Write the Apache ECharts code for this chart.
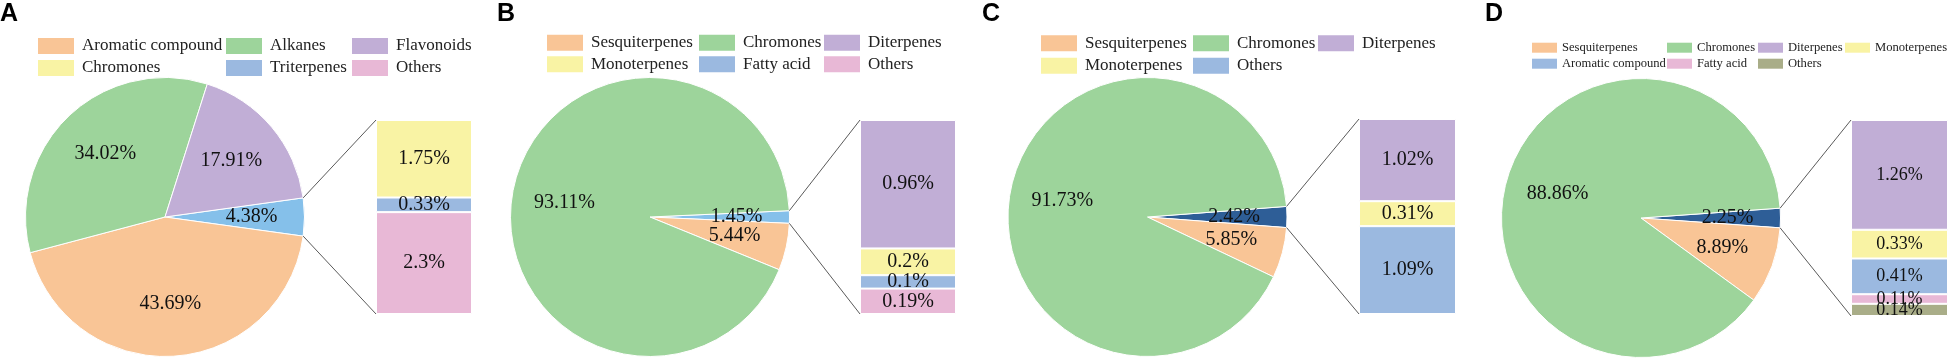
<!DOCTYPE html>
<html>
<head>
<meta charset="utf-8">
<script src="https://cdn.jsdelivr.net/npm/echarts@6/dist/echarts.min.js"></script>
<style>
  html, body { margin: 0; padding: 0; background: #fff; }
  #chart { width: 1949px; height: 359px; }
</style>
</head>
<body>
<div id="chart"></div>
<script>
// ---- values ----
const PANEL_TAGS = ['A', 'B', 'C', 'D'];

// pie: first slice is the small pulled-out slice that the bar on the right breaks down
const A_PIE_NAMES = ['A minor classes', 'Aromatic compound', 'Alkanes', 'Flavonoids'];
const A_PIE_VALUES = [4.38, 43.69, 34.02, 17.91];
const A_BAR_NAMES = ['Chromones', 'Triterpenes', 'Others'];          // top -> bottom
const A_BAR_VALUES = [1.75, 0.33, 2.3];
const A_LEGEND = [['Aromatic compound', 'Alkanes', 'Flavonoids'], ['Chromones', 'Triterpenes', 'Others']];

const B_PIE_NAMES = ['B minor classes', 'Sesquiterpenes', 'Chromones'];
const B_PIE_VALUES = [1.45, 5.44, 93.11];
const B_BAR_NAMES = ['Diterpenes', 'Monoterpenes', 'Fatty acid', 'Others'];
const B_BAR_VALUES = [0.96, 0.2, 0.1, 0.19];
const B_LEGEND = [['Sesquiterpenes', 'Chromones', 'Diterpenes'], ['Monoterpenes', 'Fatty acid', 'Others']];

const C_PIE_NAMES = ['C minor classes', 'Sesquiterpenes', 'Chromones'];
const C_PIE_VALUES = [2.42, 5.85, 91.73];
const C_BAR_NAMES = ['Diterpenes', 'Monoterpenes', 'Others'];
const C_BAR_VALUES = [1.02, 0.31, 1.09];
const C_LEGEND = [['Sesquiterpenes', 'Chromones', 'Diterpenes'], ['Monoterpenes', 'Others']];

const D_PIE_NAMES = ['D minor classes', 'Sesquiterpenes', 'Chromones'];
const D_PIE_VALUES = [2.25, 8.89, 88.86];
const D_BAR_NAMES = ['Diterpenes', 'Monoterpenes', 'Aromatic compound', 'Fatty acid', 'Others'];
const D_BAR_VALUES = [1.26, 0.33, 0.41, 0.11, 0.14];
const D_LEGEND = [['Sesquiterpenes', 'Chromones', 'Diterpenes', 'Monoterpenes'], ['Aromatic compound', 'Fatty acid', 'Others']];

// ---- colours ----
const ORANGE = '#F9C596', GREEN = '#9DD49B', PURPLE = '#C1AED6', YELLOW = '#F9F3A4';
const LBLUE = '#9BB9E0', PINK = '#E8B8D6', SKY = '#85C0EA', NAVY = '#2E5E97', OLIVE = '#A9AD88';

const A_COLORS = { minor: SKY, 'Aromatic compound': ORANGE, Alkanes: GREEN, Flavonoids: PURPLE, Chromones: YELLOW, Triterpenes: LBLUE, Others: PINK };
const B_COLORS = { minor: SKY, Sesquiterpenes: ORANGE, Chromones: GREEN, Diterpenes: PURPLE, Monoterpenes: YELLOW, 'Fatty acid': LBLUE, Others: PINK };
const C_COLORS = { minor: NAVY, Sesquiterpenes: ORANGE, Chromones: GREEN, Diterpenes: PURPLE, Monoterpenes: YELLOW, Others: LBLUE };
const D_COLORS = { minor: NAVY, Sesquiterpenes: ORANGE, Chromones: GREEN, Diterpenes: PURPLE, Monoterpenes: YELLOW, 'Aromatic compound': LBLUE, 'Fatty acid': PINK, Others: OLIVE };

// ---- layout (pixels) ----
const LAYOUT = [
  { tagX: 0,    cx: 165,    cy: 217, r: 139.5, bar: { left: 376,  top: 120, width: 96, height: 194 },
    legX: [38, 226, 352], legTop: 37, legGap: 4, sw: [36, 16], legFont: 17, legLine: 18, legPad: 3, barFont: 20 },
  { tagX: 497,  cx: 650,    cy: 217, r: 139.5, bar: { left: 860,  top: 120, width: 96, height: 194 },
    legX: [547, 699, 824], legTop: 33.7, legGap: 3.6, sw: [36, 16], legFont: 17, legLine: 18, legPad: 3, barFont: 20 },
  { tagX: 982,  cx: 1147.5, cy: 217, r: 139.5, bar: { left: 1359, top: 119, width: 97, height: 195 },
    legX: [1041, 1193, 1318], legTop: 34.3, legGap: 4.4, sw: [36, 16], legFont: 17, legLine: 18, legPad: 3, barFont: 20 },
  { tagX: 1485, cx: 1641,   cy: 218, r: 139.5, bar: { left: 1851, top: 120, width: 97, height: 196 },
    legX: [1532, 1667, 1758, 1845], legTop: 39.7, legGap: 0, sw: [25, 10], legFont: 12.6, legLine: 16, legPad: 0, barFont: 18 },
];

const PANELS = [
  { pieNames: A_PIE_NAMES, pieValues: A_PIE_VALUES, barNames: A_BAR_NAMES, barValues: A_BAR_VALUES, legend: A_LEGEND, colors: A_COLORS },
  { pieNames: B_PIE_NAMES, pieValues: B_PIE_VALUES, barNames: B_BAR_NAMES, barValues: B_BAR_VALUES, legend: B_LEGEND, colors: B_COLORS },
  { pieNames: C_PIE_NAMES, pieValues: C_PIE_VALUES, barNames: C_BAR_NAMES, barValues: C_BAR_VALUES, legend: C_LEGEND, colors: C_COLORS },
  { pieNames: D_PIE_NAMES, pieValues: D_PIE_VALUES, barNames: D_BAR_NAMES, barValues: D_BAR_VALUES, legend: D_LEGEND, colors: D_COLORS },
];

const SERIF = '"Liberation Serif", "Times New Roman", serif';
const sum = arr => arr.reduce((s, v) => s + v, 0);

const chart = echarts.init(document.getElementById('chart'), null, { renderer: 'canvas' });

const option = {
  animation: false,
  backgroundColor: '#fff',
  title: [], legend: [], grid: [], xAxis: [], yAxis: [], series: [],
};

PANELS.forEach((p, i) => {
  const L = LAYOUT[i];
  const half = p.pieValues[0] / sum(p.pieValues) * 180;   // centre the small slice on 3 o'clock

  option.title.push({
    text: PANEL_TAGS[i], left: L.tagX, top: 2, padding: 0,
    textStyle: { fontFamily: '"Liberation Sans", Arial, sans-serif', fontWeight: 'bold', fontSize: 25, color: '#000' },
  });

  // pie slices
  option.series.push({
    type: 'pie', name: 'pie' + i, center: [L.cx, L.cy], radius: [0, L.r],
    startAngle: half, clockwise: true, silent: true,
    label: { show: false }, labelLine: { show: false },
    itemStyle: { borderColor: '#fff', borderWidth: 1 },
    data: p.pieNames.map((n, j) => ({
      name: n, value: p.pieValues[j],
      itemStyle: { color: j === 0 ? p.colors.minor : p.colors[n] },
    })),
  });
  // transparent twin that only carries the labels (sits them at ~0.6 r)
  option.series.push({
    type: 'pie', name: 'pieLabels' + i, center: [L.cx, L.cy], radius: [L.r * 0.2, L.r],
    startAngle: half, clockwise: true, silent: true,
    avoidLabelOverlap: false,
    labelLayout: { hideOverlap: false },
    itemStyle: { color: 'rgba(0,0,0,0)', borderWidth: 0 },
    label: { show: true, position: 'inside', formatter: '{c}%', fontFamily: SERIF, fontSize: 20, color: '#111' },
    labelLine: { show: false },
    emphasis: { disabled: true },
    data: p.pieNames.map((n, j) => ({ name: n, value: p.pieValues[j] })),
  });

  // stacked bar
  option.grid.push({ left: L.bar.left, top: L.bar.top, width: L.bar.width, height: L.bar.height });
  option.xAxis.push({ gridIndex: i, type: 'category', data: [''], show: false });
  option.yAxis.push({ gridIndex: i, type: 'value', min: 0, max: 'dataMax', show: false });
  for (let k = p.barNames.length - 1; k >= 0; k--) {
    const n = p.barNames[k];
    option.series.push({
      type: 'bar', name: n, stack: 'bar' + i, xAxisIndex: i, yAxisIndex: i,
      barWidth: '100%', silent: true,
      itemStyle: { color: p.colors[n], borderColor: '#fff', borderWidth: 1 },
      labelLayout: { hideOverlap: false },
      label: {
        show: true, position: 'inside', offset: [10, 0],
        formatter: prm => prm.value + '%',
        fontFamily: SERIF, fontSize: L.barFont, color: '#111',
      },
      data: [p.barValues[k]],
    });
  }

  // legend: one vertical legend per column so the columns line up
  const nCols = Math.max(...p.legend.map(r => r.length));
  for (let c = 0; c < nCols; c++) {
    const names = p.legend.map(r => r[c]).filter(Boolean);
    option.legend.push({
      orient: 'vertical', left: L.legX[c], top: L.legTop, padding: 0,
      itemGap: L.legGap, itemWidth: L.sw[0], itemHeight: L.sw[1],
      icon: 'rect', selectedMode: false,
      itemStyle: { borderWidth: 0 },
      textStyle: { fontFamily: SERIF, fontSize: L.legFont, lineHeight: L.legLine, color: '#222', padding: [0, 0, 0, L.legPad] },
      data: names.map(n => ({ name: n, itemStyle: { color: p.colors[n] } })),
    });
  }
});

chart.setOption(option);

// connector lines: small slice edges -> bar corners
const graphics = [];
PANELS.forEach((p, i) => {
  const L = LAYOUT[i];
  const a = p.pieValues[0] / sum(p.pieValues) * Math.PI;
  const px = L.cx + L.r * Math.cos(a);
  const dy = L.r * Math.sin(a);
  const yTop = chart.convertToPixel({ yAxisIndex: i }, sum(p.barValues));
  const yBot = chart.convertToPixel({ yAxisIndex: i }, 0);
  [[L.cy - dy, yTop], [L.cy + dy, yBot]].forEach(([y1, y2]) => {
    graphics.push({
      type: 'line', silent: true, z: 10,
      shape: { x1: px, y1: y1, x2: L.bar.left, y2: y2 },
      style: { stroke: '#5a5a5a', lineWidth: 1 },
    });
  });
});
chart.setOption({ graphic: graphics });
</script>
</body>
</html>
